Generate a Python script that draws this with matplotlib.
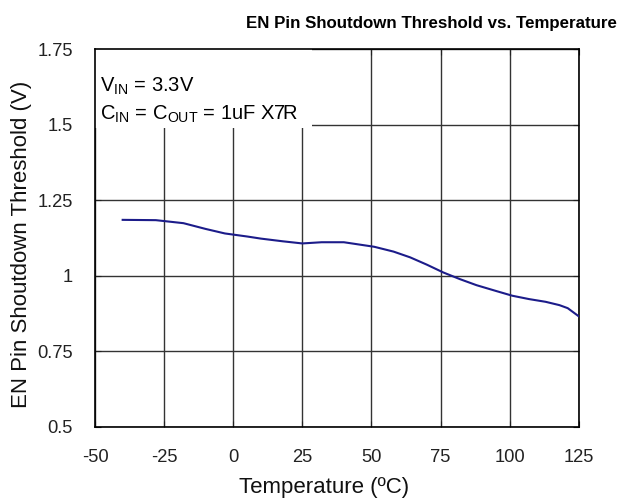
import matplotlib.pyplot as plt
from matplotlib import font_manager
from matplotlib.patches import Rectangle

plt.rcParams['font.family'] = ['Liberation Sans', 'DejaVu Sans']
plt.rcParams['mathtext.fontset'] = 'custom'
plt.rcParams['mathtext.rm'] = 'Liberation Sans'
plt.rcParams['axes.unicode_minus'] = False

temps = [-40, -28, -18, -10, -3, 5, 10, 18, 25, 32, 40, 51, 58, 64, 70, 76, 82, 88, 95, 101, 107, 113, 118, 121, 125]
thresh = [1.185, 1.184, 1.174, 1.155, 1.140, 1.130, 1.123, 1.114, 1.107, 1.111, 1.111, 1.096, 1.080, 1.061, 1.037, 1.011, 0.989, 0.969, 0.950, 0.934, 0.923, 0.914, 0.903, 0.893, 0.866]

xticks = [-50, -25, 0, 25, 50, 75, 100, 125]
yticks = [0.5, 0.75, 1.0, 1.25, 1.5, 1.75]
yticklabels = ["0.5", "0.75", "1", "1.25", "1.5", "1.75"]

names = {f.name for f in font_manager.fontManager.ttflist}
if 'Liberation Sans Narrow' in names:
    title_font, title_size = 'Liberation Sans Narrow', 14.8
else:
    title_font, title_size = 'Liberation Sans', 12.2

fig = plt.figure(figsize=(6.19, 4.99), dpi=100)
ax = fig.add_axes([0.1535, 0.1443, 0.7815, 0.7575])

ax.plot(temps, thresh, color="#1c1c8a", lw=1.5, zorder=4)
ax.set_xlim(-50, 125)
ax.set_ylim(0.5, 1.75)
ax.set_xticks(xticks)
ax.set_yticks(yticks)
ax.set_yticklabels(yticklabels)
ax.tick_params(axis="both", labelsize=13.2, direction="in", length=4, pad=16,
               top=True, right=True, colors="#222222")
ax.grid(True, color="#333333", lw=1.0)
ax.set_axisbelow(True)
for s in ax.spines.values():
    s.set_linewidth(1.2)
    s.set_color("black")

# white box behind the conditions text
ax.add_patch(Rectangle((-50, 1.489), 78.4, 0.261, facecolor="white",
                       edgecolor="none", zorder=2))
ax.text(-48.3, 1.608, r"V$_\mathregular{IN}$ = 3.3V", fontsize=14.5, va="baseline", zorder=3)
ax.text(-48.3, 1.515, r"C$_\mathregular{IN}$ = C$_\mathregular{OUT}$ = 1uF X7R", fontsize=14.5,
        va="baseline", zorder=3)

fig.text(324 / 619, 1 - 493 / 499, "Temperature (\u00baC)", fontsize=16,
         ha="center", va="baseline", color="#111111")
fig.text(22 / 619, 1 - 244 / 499, "EN Pin Shoutdown Threshold (V)", fontsize=16,
         rotation=90, ha="center", va="center", color="#111111")
fig.text(431 / 619, 1 - 28 / 499, "EN Pin Shoutdown Threshold vs. Temperature",
         ha="center", va="baseline", fontsize=title_size, fontweight="bold",
         family=[title_font, 'DejaVu Sans'])

plt.savefig("out.png", dpi=100)
